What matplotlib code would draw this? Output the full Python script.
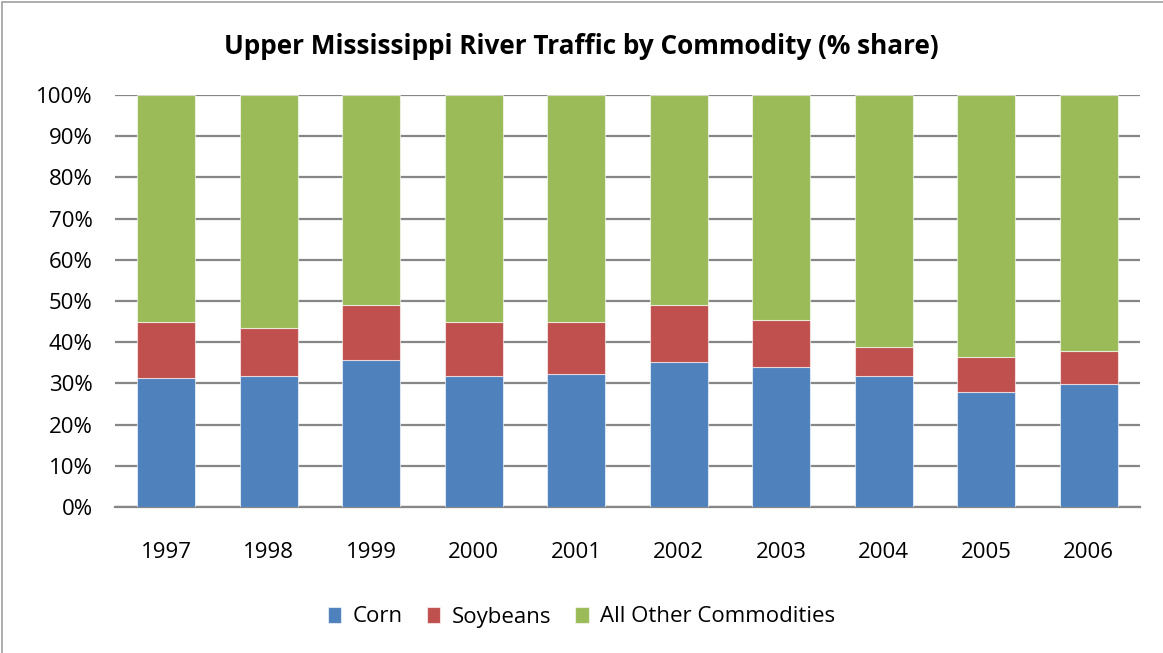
import matplotlib
matplotlib.use("Agg")
import matplotlib.pyplot as plt
from matplotlib.patches import Rectangle
from matplotlib.ticker import FuncFormatter

years = ["1997", "1998", "1999", "2000", "2001", "2002", "2003", "2004", "2005", "2006"]
corn = [31.3, 31.8, 35.6, 31.8, 32.2, 35.1, 34.1, 31.8, 28.0, 29.9]
soybeans = [13.7, 11.7, 13.5, 13.2, 12.8, 14.0, 11.3, 7.0, 8.4, 8.0]
other = [55.0, 56.5, 50.9, 55.0, 55.0, 50.9, 54.6, 61.2, 63.6, 62.1]
series_names = ["Corn", "Soybeans", "All Other Commodities"]
colors = ["#4F81BD", "#C0504D", "#9BBB59"]

plt.rcParams['font.family'] = ['Open Sans', 'DejaVu Sans']

fig = plt.figure(figsize=(11.63, 6.53), dpi=100)
ax = fig.add_axes([115/1163, 1-507/653, 1025/1163, 412/653])

x = list(range(len(years)))
bottom = [0]*len(years)
for vals, name, col in zip([corn, soybeans, other], series_names, colors):
    ax.bar(x, vals, bottom=bottom, width=0.57, color=col, label=name,
           edgecolor=(1, 1, 1, 0.6), linewidth=0.8, zorder=3)
    bottom = [b+v for b, v in zip(bottom, vals)]

ax.set_xlim(-0.5, len(years)-0.5)
ax.set_ylim(0, 100)
ax.set_yticks(range(0, 101, 10))
ax.yaxis.set_major_formatter(FuncFormatter(lambda v, p: f"{int(v)}%"))
ax.set_xticks(x)
ax.set_xticklabels(years)
ax.grid(axis='y', color='#868686', linewidth=1.6, zorder=0)
for s in ['top', 'right', 'left']:
    ax.spines[s].set_visible(False)
ax.spines['bottom'].set_color('#868686')
ax.spines['bottom'].set_linewidth(1.6)
ax.tick_params(axis='y', length=0, pad=16, labelsize=16)
ax.tick_params(axis='x', length=0, pad=25, labelsize=16)

fig.text(0.5, 1-47/653, "Upper Mississippi River Traffic by Commodity (% share)",
         ha='center', va='center', fontsize=18.8, fontweight='bold')

leg = fig.legend(loc='center', bbox_to_anchor=(0.5, 1-617/653), ncol=3, frameon=False,
                 fontsize=16, handlelength=0.6, handleheight=0.7, handletextpad=0.5,
                 columnspacing=1.1)

fig.patches.append(Rectangle((2/1163, -0.01), 1.2, 1-2/653+0.01, transform=fig.transFigure,
                             fill=False, edgecolor='#A0A0A0', linewidth=1.2))

fig.savefig("out.png", dpi=100)
